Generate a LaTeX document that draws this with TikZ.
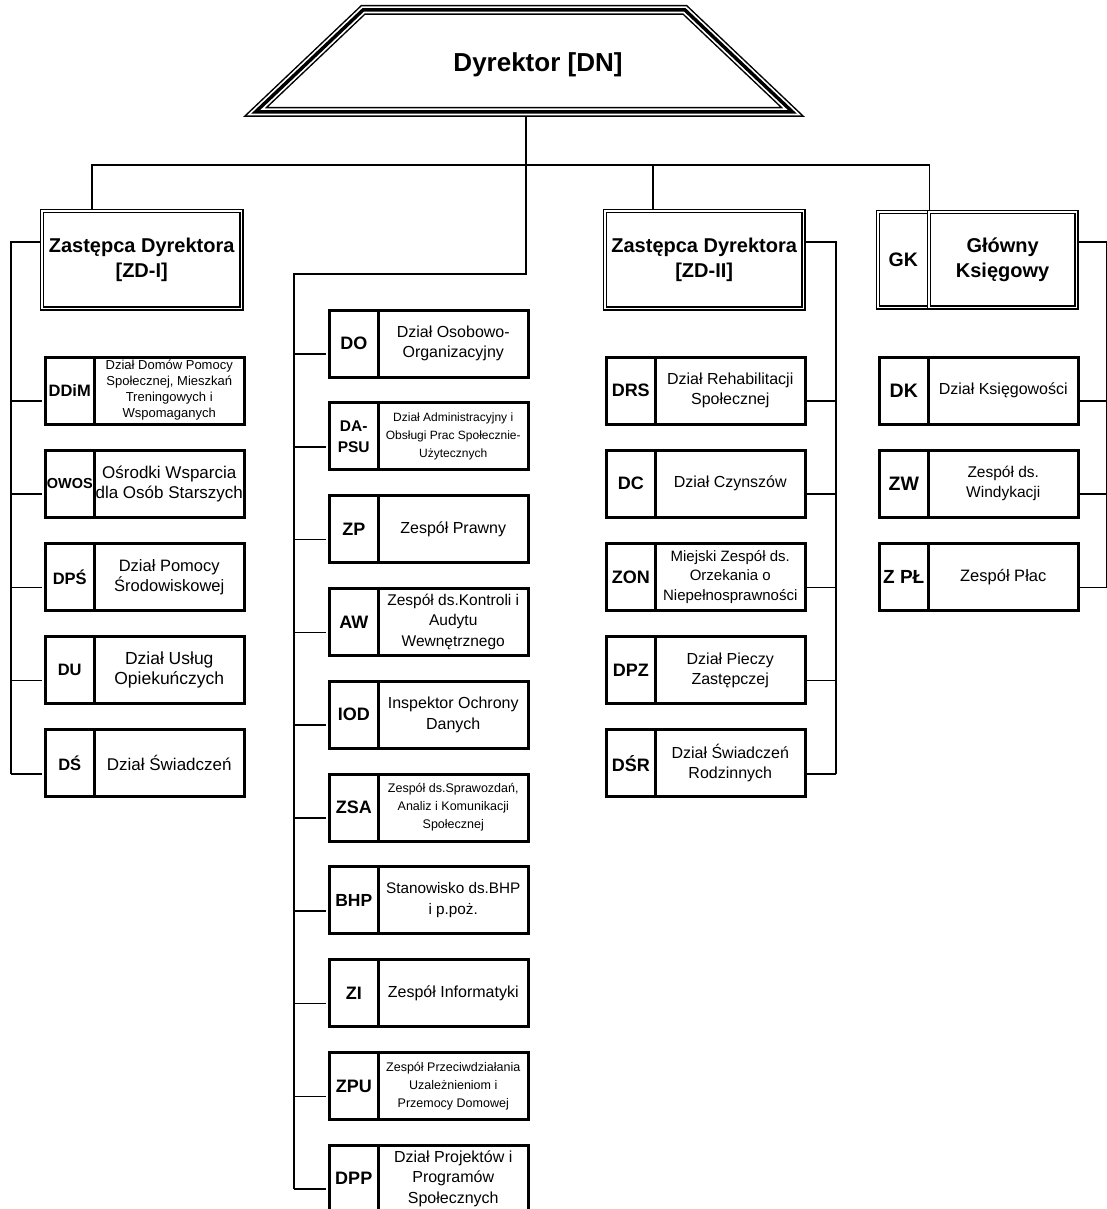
\documentclass[tikz,border=0pt]{standalone}
\usepackage{fontspec}
\setmainfont{Liberation Sans}
\usetikzlibrary{calc}
\pgfdeclarelayer{background}
\pgfsetlayers{background,main}
\newcommand\setfs[2]{\fontsize{#1}{#2}\selectfont}
\tikzset{
  conn/.style={draw=black,line width=1.5pt},
  codebox/.style={draw=black,line width=3pt,fill=white,inner sep=0pt,minimum width=49.5pt,minimum height=67pt,anchor=north west,align=center},
  descbox/.style={draw=black,line width=3pt,fill=white,inner sep=0pt,minimum width=149.5pt,minimum height=67pt,anchor=north west,align=center},
  dblbox/.style={draw=black,line width=1.4pt,double=white,double distance=1.6pt,fill=white,inner sep=0pt,anchor=north west,align=center},
}
\newcommand\orgunit[7]{%
  \node[codebox,font=#6] (#1-c) at ({#2+1.5},{#3+1.5}) {#4};
  \node[descbox,font=#7] (#1-d) at ({#2+51},{#3+1.5}) {#5};
  \coordinate (#1-a) at ({#2},{#3+47});
  \coordinate (#1-b) at ({#2+202},{#3+47});
}
\begin{document}
\begin{tikzpicture}[x=1pt,y=-1pt]
\useasboundingbox (0,0) rectangle (1106,1209);
% director
\draw[line width=10pt,line join=miter,
      postaction={draw=white,line width=7pt},
      postaction={draw=black,line width=3.5pt}]
  (255.5,112) -- (363,10) -- (685,10) -- (792.5,112) -- cycle;
\node[font=\bfseries\setfs{26}{28},anchor=base] (dn) at (538,72) {Dyrektor [DN]};
\coordinate (dnb) at (526,117);
% deputies
\node[dblbox,minimum width=199.6pt,minimum height=97.6pt,font=\bfseries\setfs{20}{25}] (zd1) at (41.2,210.2) {Zastępca Dyrektora\\{[ZD-I]}};
\node[dblbox,minimum width=198.6pt,minimum height=97.6pt,font=\bfseries\setfs{20}{25}] (zd2) at (604.2,210.2) {Zastępca Dyrektora\\{[ZD-II]}};
\node[dblbox,minimum width=50.8pt,minimum height=95.6pt,font=\bfseries\setfs{19.5}{22}] (gk-c) at (877.2,211.2) {GK};
\node[dblbox,minimum width=147.8pt,minimum height=95.6pt,font=\bfseries\setfs{20}{25}] (gk-d) at (928,211.2) {Główny\\Księgowy};
% left column
\orgunit{ddim}{42}{354}{DDiM}{Dział Domów Pomocy\\Społecznej, Mieszkań\\Treningowych i\\Wspomaganych}{\bfseries\setfs{16.5}{18}}{\setfs{13}{16}}
\orgunit{owos}{42}{447.2}{OWOS}{Ośrodki Wsparcia\\dla Osób Starszych}{\bfseries\setfs{14.5}{18}}{\setfs{17}{20}}
\orgunit{dps}{42}{540.4}{DPŚ}{Dział Pomocy\\Środowiskowej}{\bfseries\setfs{16.5}{18}}{\setfs{16.5}{20}}
\orgunit{du}{42}{633.6}{DU}{Dział Usług\\Opiekuńczych}{\bfseries\setfs{16.5}{18}}{\setfs{17.5}{20.5}}
\orgunit{ds}{42}{726.8}{DŚ}{Dział Świadczeń}{\bfseries\setfs{16.5}{18}}{\setfs{17}{20}}
% middle column
\orgunit{do}{326}{307}{DO}{Dział Osobowo-\\Organizacyjny}{\bfseries\setfs{18}{20}}{\setfs{16}{20}}
\orgunit{dapsu}{326}{399.8}{DA-\\PSU}{Dział Administracyjny i\\Obsługi Prac Społecznie-\\Użytecznych}{\bfseries\setfs{15.5}{21}}{\setfs{12}{18}}
\orgunit{zp}{326}{492.6}{ZP}{Zespół Prawny}{\bfseries\setfs{18}{20}}{\setfs{16}{19}}
\orgunit{aw}{326}{585.4}{AW}{Zespół ds.Kontroli i\\Audytu\\Wewnętrznego}{\bfseries\setfs{18}{20}}{\setfs{15.5}{20.5}}
\orgunit{iod}{326}{678.2}{IOD}{Inspektor Ochrony\\Danych}{\bfseries\setfs{18}{20}}{\setfs{16}{20.5}}
\orgunit{zsa}{326}{771}{ZSA}{Zespół ds.Sprawozdań,\\Analiz i Komunikacji\\Społecznej}{\bfseries\setfs{18}{20}}{\setfs{12.5}{18}}
\orgunit{bhp}{326}{863.8}{BHP}{Stanowisko ds.BHP\\i p.poż.}{\bfseries\setfs{17.5}{20}}{\setfs{15.3}{21}}
\orgunit{zi}{326}{956.6}{ZI}{Zespół Informatyki}{\bfseries\setfs{18}{20}}{\setfs{16}{19}}
\orgunit{zpu}{326}{1049.4}{ZPU}{Zespół Przeciwdziałania\\Uzależnieniom i\\Przemocy Domowej}{\bfseries\setfs{18}{20}}{\setfs{12.5}{18}}
\orgunit{dpp}{326}{1142.2}{DPP}{Dział Projektów i\\Programów\\Społecznych}{\bfseries\setfs{18}{20}}{\setfs{16}{20.5}}
% right column
\orgunit{drs}{603}{354}{DRS}{Dział Rehabilitacji\\Społecznej}{\bfseries\setfs{18}{20}}{\setfs{16}{20}}
\orgunit{dc}{603}{447.2}{DC}{Dział Czynszów}{\bfseries\setfs{18}{20}}{\setfs{16}{19}}
\orgunit{zon}{603}{540.4}{ZON}{Miejski Zespół ds.\\Orzekania o\\Niepełnosprawności}{\bfseries\setfs{18}{20}}{\setfs{15}{19.5}}
\orgunit{dpz}{603}{633.6}{DPZ}{Dział Pieczy\\Zastępczej}{\bfseries\setfs{18}{20}}{\setfs{16}{20}}
\orgunit{dsr}{603}{726.8}{DŚR}{Dział Świadczeń\\Rodzinnych}{\bfseries\setfs{18}{20}}{\setfs{16}{20}}
% accountant column
\orgunit{dk}{876}{354}{DK}{Dział Księgowości}{\bfseries\setfs{19.5}{20}}{\setfs{16}{19}}
\orgunit{zw}{876}{447.2}{ZW}{Zespół ds.\\Windykacji}{\bfseries\setfs{19.5}{20}}{\setfs{15.5}{20}}
\orgunit{zpl}{876}{540.4}{Z PŁ}{Zespół Płac}{\bfseries\setfs{19}{20}}{\setfs{16.5}{19}}
% connectors
\coordinate (busy) at (0,165);
\coordinate (lx) at (11,0);
\coordinate (rx) at (836,0);
\coordinate (gx) at (1107,0);
\coordinate (mtop) at (294,274);
\begin{pgfonlayer}{background}
\draw[conn] ($(zd1.north west)+(50.8,0)$) |- (busy -| gk-c.north east) -- (gk-c.north east);
\draw[conn] ($(zd2.north west)+(48.8,0)$) coordinate (z2t) -- (z2t |- busy);
\draw[conn] (dnb) |- (mtop) -- (mtop |- dpp-a);
\foreach \n in {do,dapsu,zp,aw,iod,zsa,bhp,zi,zpu,dpp}
  \draw[conn] (mtop |- \n-a) -- (\n-a);
\draw[conn] ($(zd1.north west)+(0,32)$) -| (lx |- ds-a);
\foreach \n in {ddim,owos,dps,du,ds}
  \draw[conn] (lx |- \n-a) -- (\n-a);
\draw[conn] ($(zd2.north east)+(0,32)$) -| (rx |- dsr-b);
\foreach \n in {drs,dc,zon,dpz,dsr}
  \draw[conn] (\n-b) -- (rx |- \n-b);
\draw[conn] ($(gk-d.north east)+(0,31)$) -| (gx |- zpl-b);
\foreach \n in {dk,zw,zpl}
  \draw[conn] (\n-b) -- (gx |- \n-b);
\end{pgfonlayer}
\end{tikzpicture}
\end{document}
